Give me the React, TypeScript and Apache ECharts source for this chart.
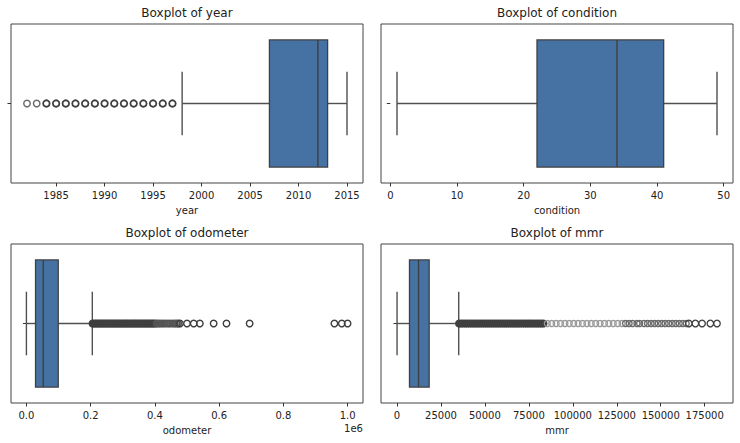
import React, { useEffect, useRef } from "react";
import * as echarts from "echarts";

// ---------- data ----------
const panelTitles = ["Boxplot of year", "Boxplot of condition", "Boxplot of odometer", "Boxplot of mmr"];
const axisNames = ["year", "condition", "odometer", "mmr"];

// [lower whisker, Q1, median, Q3, upper whisker]
const yearBox = [1998, 2007, 2012, 2013, 2015];
const yearFaintOutliers = [1982, 1983];
const yearOutliers = [1984, 1985, 1986, 1987, 1988, 1989, 1990, 1991, 1992, 1993, 1994, 1995, 1996, 1997];
const yearTicks = [1985, 1990, 1995, 2000, 2005, 2010, 2015];
const yearTickLabels = ["1985", "1990", "1995", "2000", "2005", "2010", "2015"];
const yearRange = [1980.35, 2016.65];

const conditionBox = [1, 22, 34, 41, 49];
const conditionTicks = [0, 10, 20, 30, 40, 50];
const conditionTickLabels = ["0", "10", "20", "30", "40", "50"];
const conditionRange = [-1.4, 51.4];

const odometerBox = [1, 28400, 52300, 99100, 205200];
const odometerDenseOutliers = [
  206000, 211000, 216000, 221000, 226000, 231000, 236000, 241000, 246000, 251000,
  256000, 261000, 266000, 271000, 276000, 281000, 286000, 291000, 296000, 301000,
  306000, 311000, 316000, 321000, 326000, 331000, 336000, 341000, 346000, 351000,
  356000, 361000, 366000, 371000, 376000, 381000, 386000, 391000, 396000, 401000,
];
const odometerFaintOutliers = [406000, 412000, 418000, 425000, 432000, 440000, 447000, 455000, 462000, 468000, 473000];
const odometerOutliers = [478000, 500000, 521000, 540000, 583000, 623000, 695000, 959000, 982000, 999999];
const odometerTicks = [0, 200000, 400000, 600000, 800000, 1000000];
const odometerTickLabels = ["0.0", "0.2", "0.4", "0.6", "0.8", "1.0"];
const odometerRange = [-48000, 1048000];

const mmrBox = [25, 7100, 12250, 18300, 35100];
const mmrDenseOutliers = [
  35300, 36500, 37700, 38900, 40100, 41300, 42500, 43700, 44900, 46100,
  47300, 48500, 49700, 50900, 52100, 53300, 54500, 55700, 56900, 58100,
  59300, 60500, 61700, 62900, 64100, 65300, 66500, 67700, 68900, 70100,
  71300, 72500, 73700, 74900, 76100, 77300, 78500, 79700, 80900, 82100, 83300,
];
const mmrFaintOutliers = [
  85500, 88000, 90500, 93000, 95500, 98000, 100500, 103000, 105500, 108000,
  110500, 113000, 115500, 118000, 120500, 123000, 125500, 128000,
];
const mmrMidOutliers = [
  130000, 132000, 134000, 136500, 138000, 140500, 142500, 144500, 146500, 148500,
  150500, 152500, 154500, 156500, 158500, 160500, 162500, 164500,
];
const mmrOutliers = [166000, 169700, 173500, 178200, 182000];
const mmrTicks = [0, 25000, 50000, 75000, 100000, 125000, 150000, 175000];
const mmrTickLabels = ["0", "25000", "50000", "75000", "100000", "125000", "150000", "175000"];
const mmrRange = [-9100, 191100];

// ---------- style ----------
const BOX_FILL = "#4672a3";
const LINE = "#3f3f3f";
const WHISKER = "#505050";
const TEXT = "#222222";
const FONT = "DejaVu Sans";

const grids = [
  { left: 11, top: 24, width: 352, height: 159 },
  { left: 381, top: 24, width: 352, height: 159 },
  { left: 11, top: 244, width: 352, height: 159 },
  { left: 381, top: 244, width: 352, height: 159 },
];

const renderBox = (params: any, api: any) => {
  const xs = [0, 1, 2, 3, 4].map((i) => api.coord([api.value(i), 0])[0]);
  const cy = api.coord([api.value(2), 0])[1];
  const band = api.size([0, 1])[1];
  const bh = band * 0.8;
  const ch = band * 0.4;
  const ls = { stroke: WHISKER, lineWidth: 1.4, fill: null };
  return {
    type: "group",
    children: [
      { type: "line", shape: { x1: xs[0], y1: cy, x2: xs[1], y2: cy }, style: ls },
      { type: "line", shape: { x1: xs[3], y1: cy, x2: xs[4], y2: cy }, style: ls },
      { type: "line", shape: { x1: xs[0], y1: cy - ch / 2, x2: xs[0], y2: cy + ch / 2 }, style: ls },
      { type: "line", shape: { x1: xs[4], y1: cy - ch / 2, x2: xs[4], y2: cy + ch / 2 }, style: ls },
      {
        type: "rect",
        shape: { x: xs[1], y: cy - bh / 2, width: xs[3] - xs[1], height: bh },
        style: { fill: BOX_FILL, stroke: LINE, lineWidth: 1.3 },
      },
      { type: "line", shape: { x1: xs[2], y1: cy - bh / 2, x2: xs[2], y2: cy + bh / 2 }, style: { stroke: LINE, lineWidth: 1.4 } },
    ],
  };
};

const panels = [
  {
    box: yearBox,
    outlierSets: [
      { values: yearFaintOutliers, color: "#6a6a6a", size: 6.5, width: 1.4 },
      { values: yearOutliers, color: LINE, size: 6.5, width: 1.8 },
    ],
    ticks: yearTicks,
    labels: yearTickLabels,
    range: yearRange,
  },
  {
    box: conditionBox,
    outlierSets: [],
    ticks: conditionTicks,
    labels: conditionTickLabels,
    range: conditionRange,
  },
  {
    box: odometerBox,
    outlierSets: [
      { values: odometerDenseOutliers, color: LINE, size: 5.5, width: 2.6 },
      { values: odometerFaintOutliers, color: "#555", size: 6, width: 1.8 },
      { values: odometerOutliers, color: LINE, size: 6.5, width: 1.4 },
    ],
    ticks: odometerTicks,
    labels: odometerTickLabels,
    range: odometerRange,
  },
  {
    box: mmrBox,
    outlierSets: [
      { values: mmrDenseOutliers, color: LINE, size: 5.5, width: 2.6 },
      { values: mmrFaintOutliers, color: "#999", size: 6, width: 1.3 },
      { values: mmrMidOutliers, color: "#6a6a6a", size: 6, width: 1.4 },
      { values: mmrOutliers, color: LINE, size: 6.5, width: 1.3 },
    ],
    ticks: mmrTicks,
    labels: mmrTickLabels,
    range: mmrRange,
  },
];

export default function App() {
  const ref = useRef<HTMLDivElement>(null);

  useEffect(() => {
    if (!ref.current) return;
    const chart = echarts.init(ref.current, undefined, { renderer: "svg" });

    const xAxis = panels.map((p, i) => ({
      type: "value",
      gridIndex: i,
      min: p.range[0],
      max: p.range[1],
      name: axisNames[i],
      nameLocation: "middle",
      nameGap: 22,
      nameTextStyle: { fontSize: 10, color: TEXT, fontFamily: FONT },
      axisLine: { show: false },
      splitLine: { show: false },
      axisTick: {
        show: true,
        length: 3.5,
        inside: false,
        customValues: p.ticks,
        lineStyle: { color: "#333", width: 1 },
      },
      axisLabel: {
        show: true,
        margin: 7,
        fontSize: 10,
        color: TEXT,
        fontFamily: FONT,
        customValues: p.ticks,
        formatter: (v: number) => {
          const k = p.ticks.indexOf(v);
          return k >= 0 ? p.labels[k] : "";
        },
      },
    }));

    const yAxis = panels.map((p, i) => ({
      type: "category",
      gridIndex: i,
      data: [""],
      axisLine: { show: false },
      axisLabel: { show: false },
      splitLine: { show: false },
      axisTick: { show: true, alignWithLabel: true, length: 3.5, lineStyle: { color: "#333", width: 1 } },
    }));

    const series: any[] = [];
    panels.forEach((p, i) => {
      series.push({
        type: "custom",
        xAxisIndex: i,
        yAxisIndex: i,
        renderItem: renderBox,
        encode: { x: [0, 1, 2, 3, 4], y: 5 },
        data: [[...p.box, 0]],
        silent: true,
      });
      p.outlierSets.forEach((s) => {
        series.push({
          type: "scatter",
          xAxisIndex: i,
          yAxisIndex: i,
          symbol: "circle",
          symbolSize: s.size,
          itemStyle: { color: "rgba(0,0,0,0)", borderColor: s.color, borderWidth: s.width, opacity: 1 },
          data: s.values.map((v) => [v, 0]),
          silent: true,
        });
      });
    });

    const graphic: any[] = panelTitles.map((t, i) => ({
      type: "text",
      x: grids[i].left + grids[i].width / 2,
      y: grids[i].top - 11,
      style: {
        text: t,
        fontSize: 12,
        fontFamily: FONT,
        fill: TEXT,
        align: "center",
        verticalAlign: "middle",
      },
    }));
    graphic.push({
      type: "text",
      x: grids[2].left + grids[2].width,
      y: 428,
      style: {
        text: "1e6",
        fontSize: 10,
        fontFamily: FONT,
        fill: TEXT,
        align: "right",
        verticalAlign: "middle",
      },
    });

    chart.setOption({
      animation: false,
      backgroundColor: "#ffffff",
      grid: grids.map((g) => ({
        ...g,
        show: true,
        borderColor: "#444",
        borderWidth: 1,
        backgroundColor: "transparent",
        containLabel: false,
      })),
      xAxis,
      yAxis,
      series,
      graphic,
    });

    return () => chart.dispose();
  }, []);

  return (
    <div
      ref={ref}
      style={{ position: "fixed", left: 0, top: 0, width: "740px", height: "443px", background: "#fff" }}
    />
  );
}
